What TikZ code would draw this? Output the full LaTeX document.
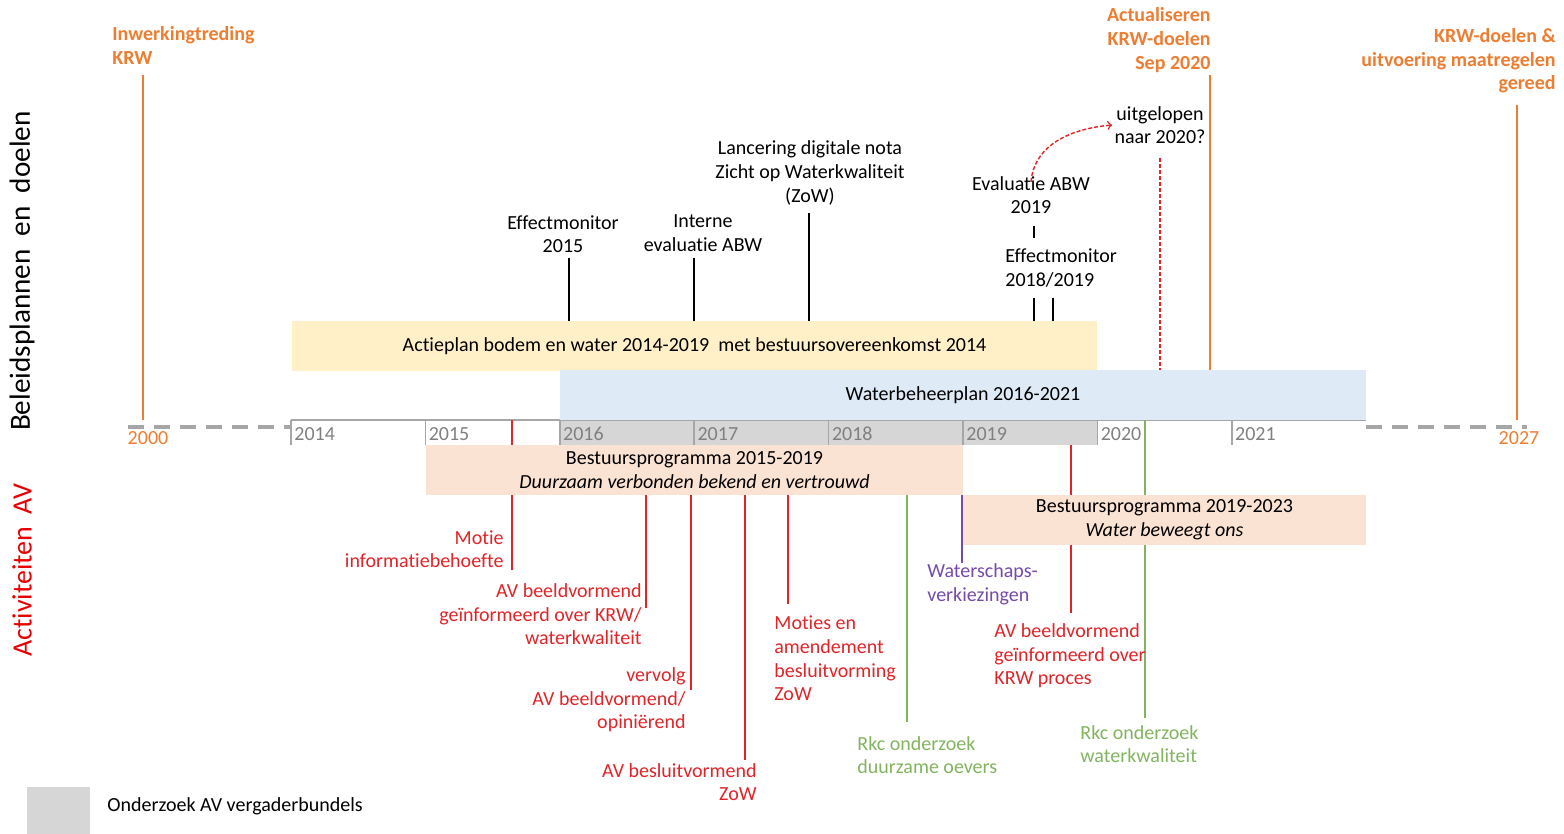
\documentclass[tikz,border=0pt]{standalone}
\usepackage{fontspec}
\setmainfont{Carlito}[Ligatures={NoCommon}]
\usepackage{tikz}
\usetikzlibrary{positioning}
\definecolor{krworange}{RGB}{237,125,49}
\definecolor{avred}{RGB}{224,36,40}
\definecolor{titelred}{RGB}{232,0,0}
\definecolor{rkcgreen}{RGB}{130,180,95}
\definecolor{wspurple}{RGB}{118,74,170}
\definecolor{actiegeel}{RGB}{255,240,200}
\definecolor{wbpblauw}{RGB}{222,234,246}
\definecolor{bpzalm}{RGB}{251,227,211}
\definecolor{jaargrijs}{RGB}{166,166,166}
\definecolor{bundelgrijs}{RGB}{214,214,214}

\begin{document}
\begin{tikzpicture}[x=0.5pt,y=-0.5pt,font=\fontsize{10}{11.8}\selectfont]
 	\tikzstyle{evt}=[align=center, inner sep=1pt]
 	\tikzstyle{evtl}=[align=left, inner sep=1pt, anchor=west]
 	\tikzstyle{evtr}=[align=right, inner sep=1pt, anchor=east]
 	\tikzstyle{mijlpaal}=[evt, text=krworange, font=\fontsize{10}{11.8}\selectfont\bfseries]
 	\tikzstyle{period}=[rectangle, inner sep=0pt, minimum height=25pt]
 	\tikzstyle{blk}=[draw=black, line width=0.7pt]
 	\tikzstyle{oranje}=[draw=krworange, line width=0.9pt]
 	\tikzstyle{avline}=[draw=avred, line width=0.7pt]
 	\tikzstyle{rkcline}=[draw=rkcgreen, line width=0.7pt]
 	\tikzstyle{tijdstreep}=[draw=jaargrijs, line width=2pt, dash pattern=on 8pt off 5pt]
 	\tikzstyle{jaar}=[anchor=west, inner sep=1pt, text=gray]
 	\useasboundingbox (0,0) rectangle (1564,834);
 	\node[rotate=90, font=\fontsize{14.6}{16}\selectfont] (beleid) at (22,271) {Beleidsplannen\ \ en\ \ doelen};
 	\node[rotate=90, font=\fontsize{14}{16}\selectfont, text=titelred] (activ) at (22,570) {Activiteiten\ \ AV};
 	\node[rectangle, fill=bundelgrijs, minimum width=268.5pt, minimum height=12.5pt, inner sep=0pt] (bundel) at (828.5,432.5) {};
 	\coordinate (ax0) at (291,427);
 	\coordinate (ax1) at (1366,427);
 	\coordinate (d0) at (128,427);
 	\coordinate (d1) at (1527,427);
 	\draw[tijdstreep] (d0) -- (ax0);
 	\draw[tijdstreep] (ax1) -- (d1);
 	\draw[jaargrijs, line width=0.8pt] (291,420) -- (1366,420);
 	\foreach \yr [count=\i from 0] in {2014,2015,2016,2017,2018,2019,2020,2021} {
 		\draw[jaargrijs, line width=0.8pt] (291+134.4*\i,420) -- (291+134.4*\i,445);
 		\node[jaar] (j\yr) at (292+134.4*\i,434) {\yr};
 	}
 	\node[text=krworange, inner sep=1pt] (j2000) at (148,438) {2000};
 	\node[text=krworange, inner sep=1pt] (j2027) at (1519,438) {2027};
 	\node[period, fill=actiegeel, minimum width=402.5pt] (actie) at (694.5,346) {Actieplan bodem en water 2014-2019\ \ met bestuursovereenkomst 2014};
 	\node[period, fill=wbpblauw, minimum width=403pt] (wbp) at (963,395) {Waterbeheerplan 2016-2021};
 	\coordinate (motiec) at (512,570);
 	\coordinate (avb2c) at (1071,613);
 	\coordinate (rkc2c) at (1145,718);
 	\draw[avline] (wbp.south -| motiec) -- (motiec);
 	\draw[avline] (bundel.south -| avb2c) -- (avb2c);
 	\draw[rkcline] (wbp.south -| rkc2c) -- (rkc2c);
 	\node[period, fill=bpzalm, minimum width=268.5pt, align=center] (bp15) at (694.5,470) {Bestuursprogramma 2015-2019\\\textit{Duurzaam verbonden bekend en vertrouwd}};
 	\node[period, fill=bpzalm, minimum width=201.5pt, align=center, text depth=2pt] (bp19) at (1164.5,520) {Bestuursprogramma 2019-2023\\\textit{Water beweegt ons}};
 	\node[mijlpaal, align=left, anchor=west] (krw00) at (110,45.5) {Inwerkingtreding\\KRW};
 	\node[mijlpaal, align=right, anchor=east] (act20) at (1213,40) {Actualiseren\\KRW-doelen\\Sep 2020};
 	\node[mijlpaal, align=right, anchor=east] (krw27) at (1558,61) {KRW-doelen \&\\uitvoering maatregelen\\gereed};
 	\coordinate (krw00c) at (143,75);
 	\coordinate (act20c) at (1210,75);
 	\coordinate (krw27c) at (1517,105);
 	\draw[oranje] (krw00c) -- (wbp.south -| krw00c);
 	\draw[oranje] (act20c) -- (wbp.north -| act20c);
 	\draw[oranje] (krw27c) -- (wbp.south -| krw27c);
 	\node[evt] (eff15) at (563,234) {Effectmonitor\\2015};
 	\node[evt] (intern) at (703,233) {Interne\\evaluatie ABW};
 	\node[evt] (lanc) at (810,173) {Lancering digitale nota\\Zicht op Waterkwaliteit\\(ZoW)};
 	\node[evt] (evabw) at (1031,195) {Evaluatie ABW\\2019};
 	\node[evtl] (eff1819) at (1003,268) {Effectmonitor\\2018/2019};
 	\node[evt] (uitg) at (1160,125) {uitgelopen\\naar 2020?};
 	\coordinate (eff15c) at (569,258);
 	\coordinate (internc) at (694,258);
 	\coordinate (lancc) at (809,213);
 	\coordinate (evabwc) at (1034,226);
 	\coordinate (eff18c) at (1034,298);
 	\coordinate (eff19c) at (1053,298);
 	\coordinate (uitgc) at (1160,158);
 	\path (eff15c) edge [blk] (actie.north -| eff15c)
 	(internc) edge [blk] (actie.north -| internc)
 	(lancc) edge [blk] (actie.north -| lancc)
 	(evabwc) edge [blk] ++(0,12)
 	(eff18c) edge [blk] (actie.north -| eff18c)
 	(eff19c) edge [blk] (actie.north -| eff19c);
 	\draw[avred, line width=0.7pt, dash pattern=on 2pt off 1pt] (uitgc) -- (wbp.north -| uitgc);
 	\draw[avred, line width=0.7pt, dash pattern=on 2pt off 1pt, ->] ([yshift=-4pt]evabw.north) to[out=85, in=185] (uitg.west);
 	\node[evtr, text=avred] (motie) at (506,549) {Motie\\informatiebehoefte};
 	\node[evtr, text=avred] (avb1) at (644,614.5) {AV beeldvormend\\geïnformeerd over KRW/\\waterkwaliteit};
 	\node[evtr, text=avred] (vervolg) at (688,700) {vervolg\\AV beeldvormend/\\opiniërend};
 	\node[evtr, text=avred] (avbes) at (759,782) {AV besluitvormend\\ZoW};
 	\node[evtl, text=avred] (moties) at (772,658.5) {Moties en\\amendement\\besluitvorming\\ZoW};
 	\node[evtl, text=rkcgreen] (rkc1) at (855,755) {Rkc onderzoek\\duurzame oevers};
 	\node[evtl, text=wspurple] (wsv) at (925,584.5) {Waterschaps-\\verkiezingen};
 	\node[evtl, text=avred] (avb2) at (992,656) {AV beeldvormend\\geïnformeerd over\\KRW proces};
 	\node[evtl, text=rkcgreen] (rkc2) at (1078,744) {Rkc onderzoek\\waterkwaliteit};
 	\coordinate (avb1c) at (646,608);
 	\coordinate (vervolgc) at (691,690);
 	\coordinate (avbesc) at (745,760);
 	\coordinate (motiesc) at (788,604);
 	\coordinate (rkc1c) at (907,722);
 	\coordinate (wsvc) at (962,563);
 	\path (bp15.south -| avb1c) edge [avline] (avb1c)
 	(bp15.south -| vervolgc) edge [avline] (vervolgc)
 	(bp15.south -| avbesc) edge [avline] (avbesc)
 	(bp15.south -| motiesc) edge [avline] (motiesc)
 	(bp15.south -| rkc1c) edge [rkcline] (rkc1c)
 	(bp15.south -| wsvc) edge [draw=wspurple, line width=0.7pt] (wsvc);
 	\node[rectangle, fill=bundelgrijs, minimum width=31.5pt, minimum height=24pt, inner sep=0pt] (legenda) at (58.5,811) {};
 	\node[anchor=west, inner sep=1pt] (legtekst) at (105,806) {Onderzoek AV vergaderbundels};
\end{tikzpicture}
\end{document}
